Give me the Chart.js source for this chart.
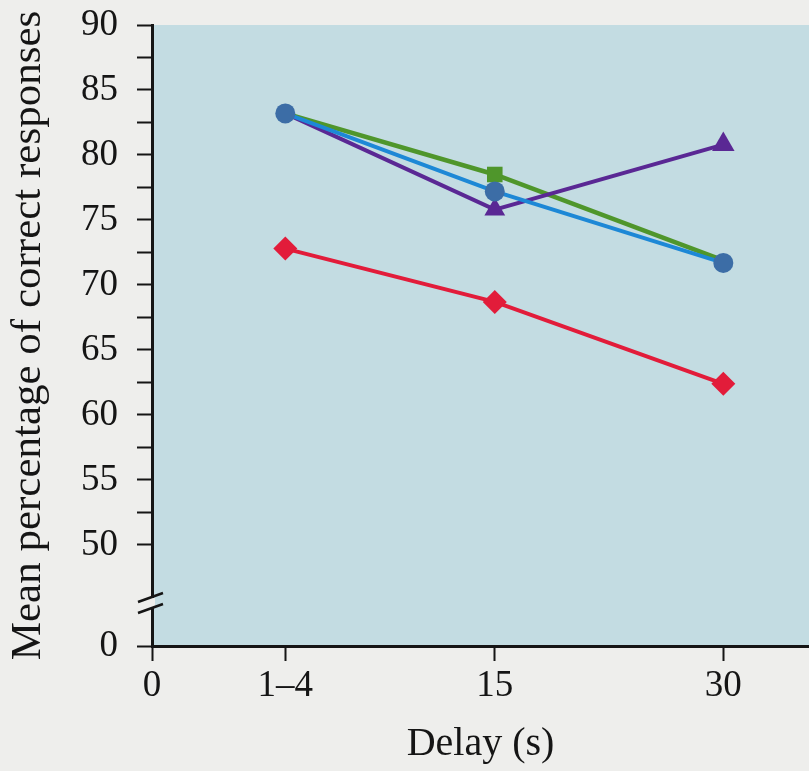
<!DOCTYPE html>
<html>
<head>
<meta charset="utf-8">
<script src="https://cdn.jsdelivr.net/npm/chart.js@4.4.1/dist/chart.umd.min.js"></script>
<style>
  html, body { margin: 0; padding: 0; background: #eeeeec; }
  #chart { display: block; }
</style>
</head>
<body>
<canvas id="chart" width="809" height="771"></canvas>
<script>
// x axis: delays, spaced unevenly like the printed figure
const delayLabels = ["0", "1\u20134", "15", "30"];
const delayPos = [0, 7, 18, 30];
const xMax = 34.5;

// y axis is broken: bottom tick stands for 0, then 50..90
const yZero = 42.23;
const yTicks = [yZero, 50, 52.5, 55, 57.5, 60, 62.5, 65, 67.5, 70, 72.5, 75, 77.5, 80, 82.5, 85, 87.5, 90];
const yBreakAt = 45.54;

// mean % correct at 1-4, 15, 30 s
const blueVals = [83.2, 77.2, 71.7];
const greenVals = [83.2, 78.5, 71.9];
const purpleVals = [83.2, 75.8, 80.8];
const redVals = [72.8, 68.7, 62.4];

const serif = "'Liberation Serif', 'Times New Roman', serif";
const ink = "#151515";

function pts(vals) {
  return vals.map((v, i) => ({ x: delayPos[i + 1], y: v }));
}

const plotBg = {
  id: "plotBg",
  beforeDraw(chart) {
    const { ctx, chartArea: a } = chart;
    ctx.save();
    ctx.fillStyle = "#c3dce2";
    ctx.fillRect(a.left, a.top, a.right - a.left, a.bottom - a.top);
    ctx.restore();
  }
};

const axisBreak = {
  id: "axisBreak",
  afterDraw(chart) {
    const { ctx, chartArea: a } = chart;
    const yc = chart.scales.y.getPixelForValue(yBreakAt);
    const ax = a.left;
    ctx.save();
    ctx.fillStyle = "#eeeeec";
    ctx.fillRect(ax - 3, yc - 5, 6, 10);
    ctx.strokeStyle = ink;
    ctx.lineWidth = 2.5;
    ctx.beginPath();
    ctx.moveTo(ax - 14, yc - 1);
    ctx.lineTo(ax + 11, yc - 10);
    ctx.moveTo(ax - 14, yc + 10);
    ctx.lineTo(ax + 11, yc + 1);
    ctx.stroke();
    ctx.restore();
  }
};

function noPad(scale) {
  scale.paddingTop = 0;
  scale.paddingBottom = 0;
  scale.paddingLeft = 0;
  scale.paddingRight = 0;
}

const config = {
  type: "line",
  data: {
    datasets: [
      {
        data: pts(blueVals),
        borderColor: "#1d88d6",
        borderWidth: 4,
        pointStyle: "circle",
        pointRadius: 10,
        pointBackgroundColor: "#3c6da6",
        pointBorderColor: "#3c6da6",
        pointBorderWidth: 0
      },
      {
        data: pts(purpleVals),
        borderColor: "#5a2894",
        borderWidth: 4,
        pointStyle: "triangle",
        pointRadius: [0, 12, 13],
        pointBackgroundColor: "#5a2894",
        pointBorderColor: "#5a2894",
        pointBorderWidth: 0
      },
      {
        data: pts(greenVals),
        borderColor: "#4f962b",
        borderWidth: 4.5,
        pointStyle: "rect",
        pointRadius: [0, 11, 0],
        pointBackgroundColor: "#4f962b",
        pointBorderColor: "#4f962b",
        pointBorderWidth: 0
      },
      {
        data: pts(redVals),
        borderColor: "#e21c3a",
        borderWidth: 4,
        pointStyle: "rectRot",
        pointRadius: 12,
        pointBackgroundColor: "#e21c3a",
        pointBorderColor: "#e21c3a",
        pointBorderWidth: 0
      }
    ]
  },
  options: {
    responsive: false,
    animation: false,
    layout: { autoPadding: false, padding: { top: 25, right: 0, left: 0, bottom: 0 } },
    plugins: { legend: { display: false }, tooltip: { enabled: false } },
    elements: { line: { tension: 0 } },
    scales: {
      x: {
        type: "linear",
        min: 0,
        max: xMax,
        afterBuildTicks(scale) {
          scale.ticks = delayPos.map(v => ({ value: v }));
        },
        afterFit(scale) { scale.height = 125; noPad(scale); },
        ticks: {
          callback: (v) => delayLabels[delayPos.indexOf(v)],
          font: { family: serif, size: 37 },
          color: ink,
          padding: 3,
          maxRotation: 0,
          autoSkip: false
        },
        grid: {
          drawOnChartArea: false,
          drawTicks: true,
          tickLength: 15,
          tickWidth: 2,
          tickColor: ink
        },
        border: { display: true, color: ink, width: 3 },
        title: {
          display: true,
          text: "Delay (s)",
          font: { family: serif, size: 40, lineHeight: 1 },
          color: ink,
          padding: { top: 0, bottom: 7 }
        }
      },
      y: {
        type: "linear",
        min: yZero,
        max: 90,
        afterBuildTicks(scale) {
          scale.ticks = yTicks.map(v => ({ value: v }));
        },
        afterFit(scale) { scale.width = 152; noPad(scale); },
        ticks: {
          callback: (v) => v === yZero ? "0" : (v % 5 === 0 ? String(v) : ""),
          font: { family: serif, size: 37 },
          color: ink,
          padding: 19,
          autoSkip: false
        },
        grid: {
          drawOnChartArea: false,
          drawTicks: true,
          tickLength: 15,
          tickWidth: 2,
          tickColor: ink
        },
        border: { display: true, color: ink, width: 3 },
        title: {
          display: true,
          text: "Mean percentage of correct responses",
          font: { family: serif, size: 43, lineHeight: 1 },
          color: ink,
          padding: { top: 7, bottom: 0 }
        }
      }
    }
  },
  plugins: [plotBg, axisBreak]
};

new Chart(document.getElementById("chart"), config);
</script>
</body>
</html>
